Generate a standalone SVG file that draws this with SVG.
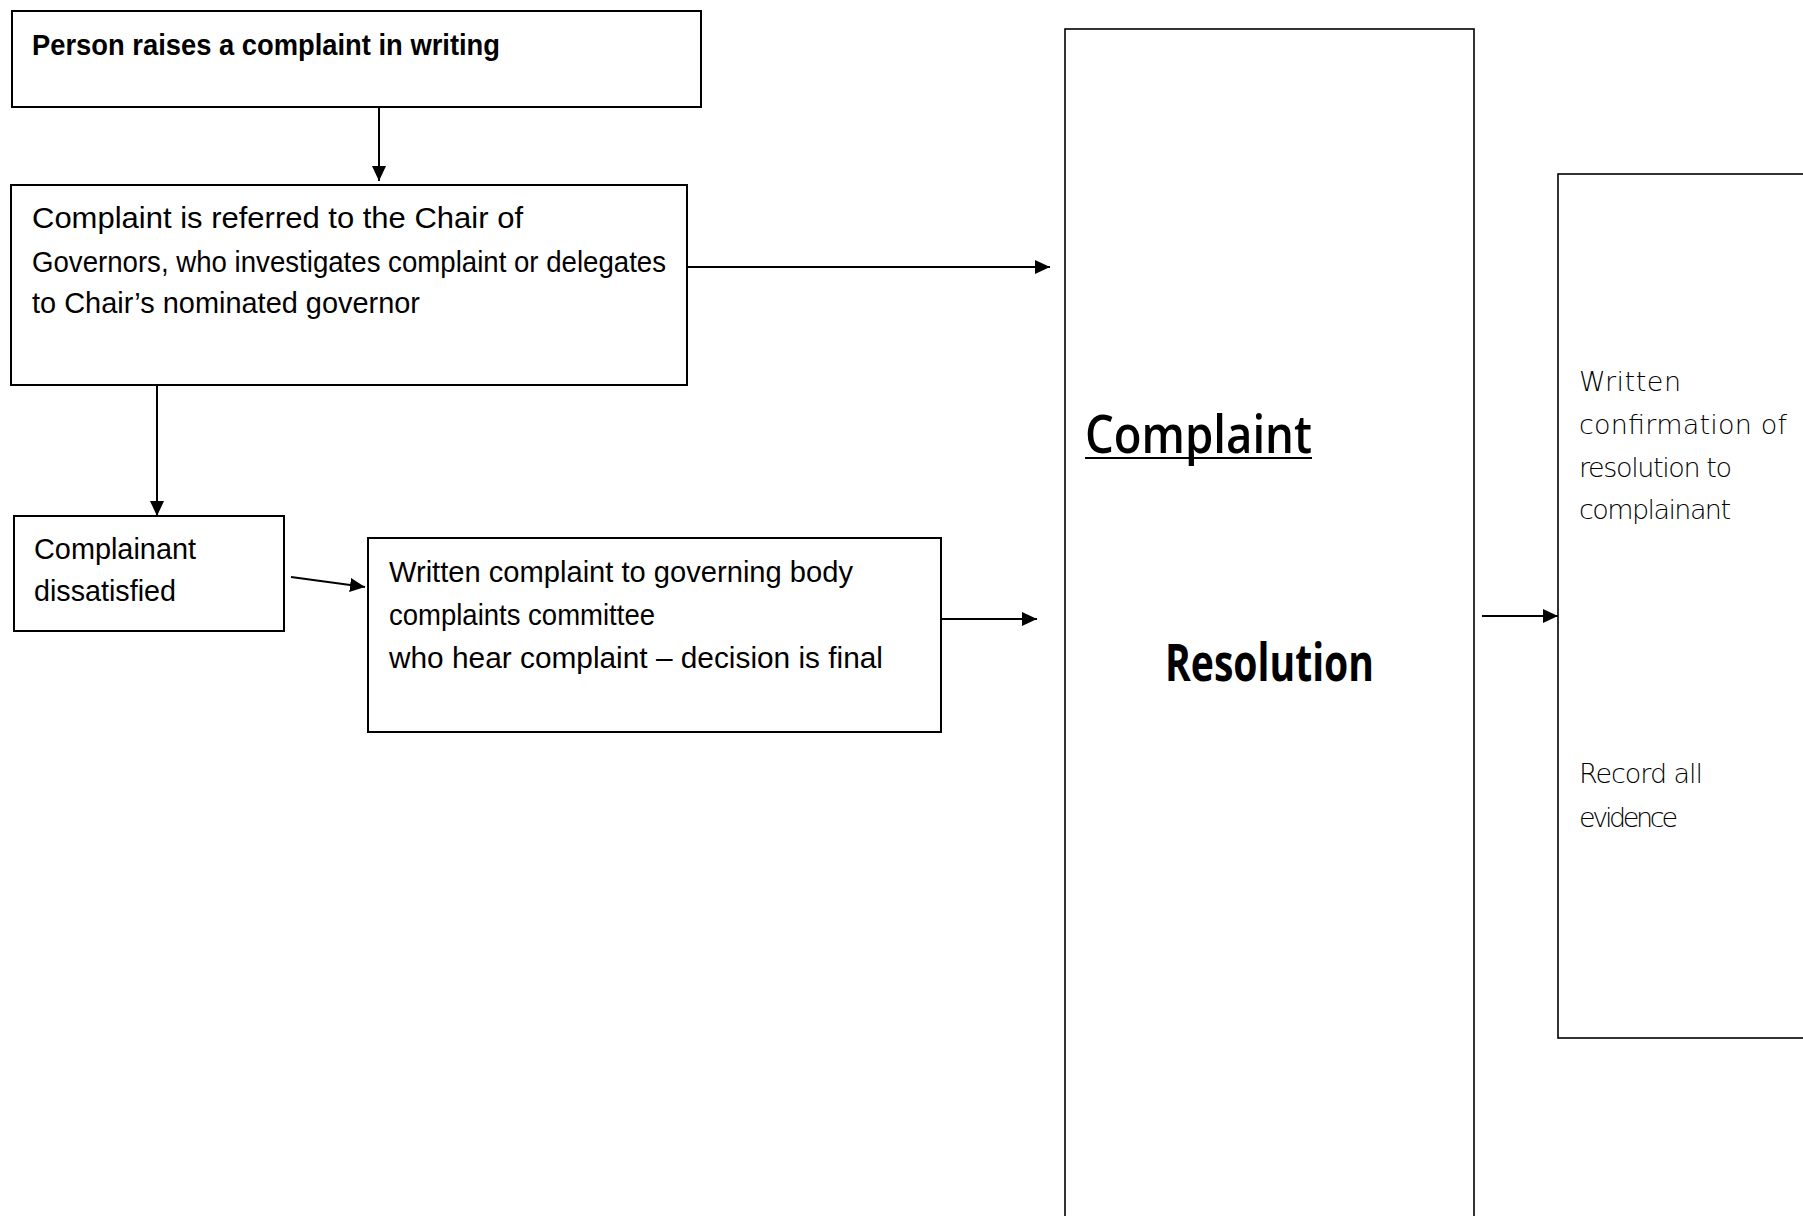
<svg xmlns="http://www.w3.org/2000/svg" width="1803" height="1216" viewBox="0 0 1803 1216">
<style>
.box{fill:#fff;stroke:#000;stroke-width:2}
.t{font-family:"Liberation Sans","Open Sans",sans-serif;font-size:29px;fill:#000}
.tb{font-family:"Liberation Sans","Open Sans",sans-serif;font-size:29px;font-weight:bold;fill:#000}
.tr{font-family:"DejaVu Sans","Open Sans",sans-serif;font-size:27px;font-weight:200;fill:#000}
.h{font-family:"Open Sans","Liberation Sans",sans-serif;font-size:52px;fill:#000}
.c{fill:none;stroke:#000;stroke-width:2}
</style>
<defs>
<marker id="ah" markerWidth="15" markerHeight="14" refX="15" refY="7" orient="auto" markerUnits="userSpaceOnUse">
<path d="M0,0 L15,7 L0,14 z" fill="#000"/>
</marker>
</defs>
<rect width="1803" height="1216" fill="#fff"/>
<g id="connectors">
<line class="c" x1="379" y1="107" x2="379" y2="181" marker-end="url(#ah)"/>
<line class="c" x1="687" y1="267" x2="1050" y2="267" marker-end="url(#ah)"/>
<line class="c" x1="157" y1="385" x2="157" y2="516" marker-end="url(#ah)"/>
<line class="c" x1="291" y1="577" x2="365" y2="587" marker-end="url(#ah)"/>
<line class="c" x1="941" y1="619" x2="1037" y2="619" marker-end="url(#ah)"/>
<line class="c" x1="1482" y1="616" x2="1558" y2="616" marker-end="url(#ah)"/>
</g>
<g id="node-raise">
<rect class="box" x="12" y="11" width="689" height="96"/>
<text class="tb" x="32" y="55" textLength="468" lengthAdjust="spacingAndGlyphs">Person raises a complaint in writing</text>
</g>
<g id="node-chair">
<rect class="box" x="11" y="185" width="676" height="200"/>
<text class="t" x="32" y="228" textLength="491" lengthAdjust="spacingAndGlyphs">Complaint is referred to the Chair of</text>
<text class="t" x="32" y="272" textLength="634" lengthAdjust="spacingAndGlyphs">Governors, who investigates complaint or delegates</text>
<text class="t" x="32" y="313" textLength="388" lengthAdjust="spacingAndGlyphs">to Chair’s nominated governor</text>
</g>
<g id="node-dissatisfied">
<rect class="box" x="14" y="516" width="270" height="115"/>
<text class="t" x="34" y="559" textLength="162" lengthAdjust="spacingAndGlyphs">Complainant</text>
<text class="t" x="34" y="601" textLength="142" lengthAdjust="spacingAndGlyphs">dissatisfied</text>
</g>
<g id="node-committee">
<rect class="box" x="368" y="538" width="573" height="194"/>
<text class="t" x="389" y="582" textLength="464" lengthAdjust="spacingAndGlyphs">Written complaint to governing body</text>
<text class="t" x="389" y="625" textLength="266" lengthAdjust="spacingAndGlyphs">complaints committee</text>
<text class="t" x="389" y="668" textLength="494" lengthAdjust="spacingAndGlyphs">who hear complaint – decision is final</text>
</g>
<g id="node-resolution">
<rect class="box" x="1065" y="29" width="409" height="1210" style="stroke-width:1.6"/>
<text class="h" x="1085" y="453" textLength="227" lengthAdjust="spacingAndGlyphs" style="font-weight:600">Complaint</text>
<line x1="1085" y1="458" x2="1312" y2="458" stroke="#000" stroke-width="2"/>
<text class="h" x="1165" y="681" textLength="209" lengthAdjust="spacingAndGlyphs" style="font-weight:bold">Resolution</text>
</g>
<g id="node-confirmation">
<rect class="box" x="1558" y="174" width="270" height="864" style="stroke-width:1.6"/>
<text class="tr" x="1579" y="391" textLength="102">Written</text>
<text class="tr" x="1579" y="434" textLength="208">confirmation of</text>
<text class="tr" x="1579" y="477" textLength="153">resolution to</text>
<text class="tr" x="1579" y="519" textLength="152">complainant</text>
<text class="tr" x="1579" y="783" textLength="124">Record all</text>
<text class="tr" x="1579" y="827" textLength="99">evidence</text>
</g>
</svg>
